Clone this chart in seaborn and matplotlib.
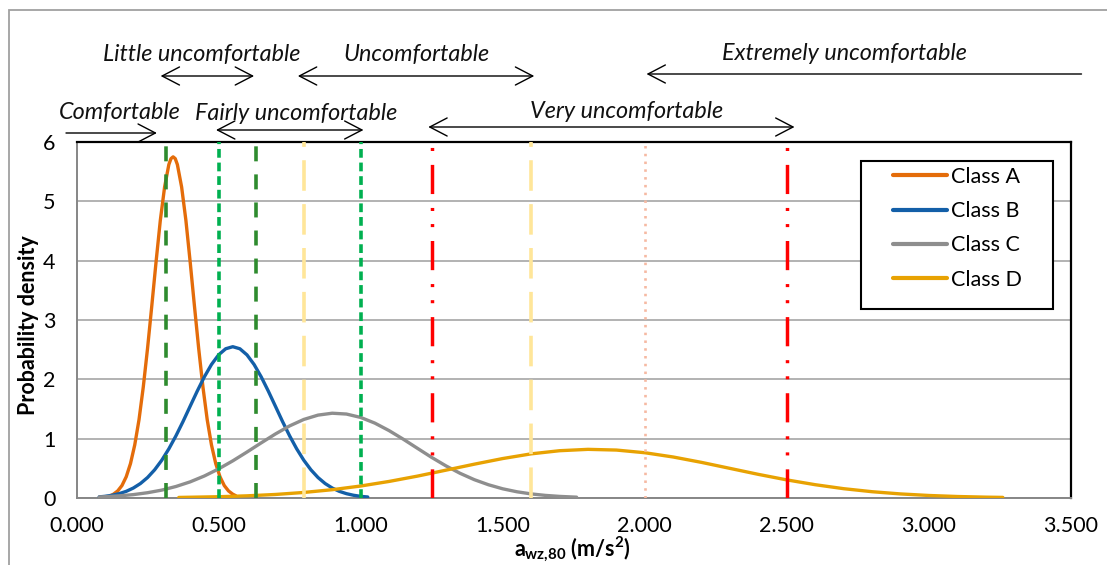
import numpy as np
import pandas as pd
import matplotlib
matplotlib.use("Agg")
import matplotlib.pyplot as plt
import matplotlib.transforms as mtransforms
from matplotlib.patches import FancyArrowPatch, Rectangle
from matplotlib.lines import Line2D
import seaborn as sns

# ---------------- data ----------------
class_a_x = [0.12, 0.13, 0.145, 0.16, 0.175, 0.19, 0.205, 0.22, 0.235, 0.25, 0.265, 0.28, 0.295,
             0.31, 0.325, 0.3325, 0.34, 0.3475, 0.355, 0.37, 0.385, 0.40, 0.415, 0.43, 0.445,
             0.46, 0.475, 0.49, 0.505, 0.52, 0.535, 0.55, 0.56]
class_a_y = [0.04, 0.064, 0.119, 0.21, 0.358, 0.58, 0.895, 1.32, 1.87, 2.52, 3.24, 3.98, 4.68,
             5.24, 5.62, 5.72, 5.75, 5.72, 5.62, 5.24, 4.68, 3.98, 3.24, 2.52, 1.87,
             1.32, 0.895, 0.58, 0.358, 0.21, 0.119, 0.064, 0.04]

class_b_x = [0.08, 0.10, 0.125, 0.15, 0.175, 0.20, 0.225, 0.25, 0.275, 0.30, 0.325, 0.35, 0.375,
             0.40, 0.425, 0.45, 0.475, 0.50, 0.525, 0.55, 0.575, 0.60, 0.625, 0.65, 0.675, 0.70,
             0.725, 0.75, 0.775, 0.80, 0.825, 0.85, 0.875, 0.90, 0.925, 0.95, 0.975, 1.00, 1.025]
class_b_y = [0.019, 0.028, 0.046, 0.073, 0.112, 0.168, 0.244, 0.345, 0.475, 0.636, 0.828, 1.048,
             1.290, 1.547, 1.802, 2.042, 2.250, 2.412, 2.515, 2.55, 2.515, 2.412, 2.250, 2.042,
             1.802, 1.547, 1.290, 1.048, 0.828, 0.636, 0.475, 0.345, 0.244, 0.168, 0.112, 0.073,
             0.046, 0.028, 0.017]

class_c_x = [0.08, 0.10, 0.15, 0.20, 0.25, 0.30, 0.35, 0.40, 0.45, 0.50, 0.55, 0.60, 0.65, 0.70,
             0.75, 0.80, 0.85, 0.90, 0.95, 1.00, 1.05, 1.10, 1.15, 1.20, 1.25, 1.30, 1.35, 1.40,
             1.45, 1.50, 1.55, 1.60, 1.65, 1.70, 1.76]
class_c_y = [0.018, 0.022, 0.036, 0.057, 0.089, 0.133, 0.194, 0.272, 0.371, 0.490, 0.626, 0.775,
             0.929, 1.079, 1.215, 1.324, 1.397, 1.429, 1.415, 1.358, 1.262, 1.136, 0.991, 0.837,
             0.684, 0.542, 0.416, 0.309, 0.223, 0.155, 0.105, 0.069, 0.044, 0.027, 0.014]

class_d_x = [0.36, 0.5, 0.6, 0.7, 0.8, 0.9, 1.0, 1.1, 1.2, 1.3, 1.4, 1.5, 1.6, 1.7, 1.8, 1.9,
             2.0, 2.1, 2.2, 2.3, 2.4, 2.5, 2.6, 2.7, 2.8, 2.9, 3.0, 3.1, 3.2, 3.26]
class_d_y = [0.0095, 0.0214, 0.0365, 0.0596, 0.0935, 0.140, 0.202, 0.279, 0.369, 0.469, 0.570,
             0.665, 0.744, 0.797, 0.820, 0.808, 0.763, 0.691, 0.600, 0.499, 0.398, 0.305, 0.224,
             0.157, 0.106, 0.0686, 0.0425, 0.0252, 0.0144, 0.0101]

class_names = ["Class A", "Class B", "Class C", "Class D"]
class_colors = ["#E46C0A", "#135FA8", "#8E8E8E", "#E8A202"]

# comfort thresholds (m/s^2)
comfortable_upper = 0.315
little_bounds = [0.315, 0.63]
fairly_bounds = [0.5, 1.0]
uncomfortable_bounds = [0.8, 1.6]
very_bounds = [1.25, 2.5]
extremely_lower = 2.0

x_ticks = [0.0, 0.5, 1.0, 1.5, 2.0, 2.5, 3.0, 3.5]
y_ticks = [0, 1, 2, 3, 4, 5, 6]

# ---------------- style ----------------
sns.set_theme(style="white")
plt.rcParams["font.family"] = ["Lato", "DejaVu Sans"]
plt.rcParams["lines.scale_dashes"] = False
plt.rcParams["mathtext.fontset"] = "custom"
plt.rcParams["mathtext.rm"] = "Lato:bold"
plt.rcParams["mathtext.it"] = "Lato:bold"
plt.rcParams["mathtext.bf"] = "Lato:bold"

W, H = 1107, 565
fig = plt.figure(figsize=(W / 100, H / 100), dpi=100, facecolor="white")
ax = fig.add_axes([76.5 / W, 1 - 498 / H, (1071 - 76.5) / W, (498 - 142) / H])

def fy(px):
    return 1 - px / H

frames = []
for name, xs, ys in zip(class_names, [class_a_x, class_b_x, class_c_x, class_d_x],
                        [class_a_y, class_b_y, class_c_y, class_d_y]):
    frames.append(pd.DataFrame({"x": xs, "y": ys, "cls": name}))
df = pd.concat(frames, ignore_index=True)
palette = dict(zip(class_names, class_colors))

sns.lineplot(data=df, x="x", y="y", hue="cls", hue_order=class_names, palette=palette,
             sort=False, estimator=None, linewidth=2.4, legend=False, ax=ax, zorder=3)

# vertical threshold lines
vstyles = [
    (little_bounds, "#2E8B2E", (0, (10.8, 9.4)), 2.6),
    (fairly_bounds, "#00B050", (0, (6.3, 3.5)), 2.6),
    (uncomfortable_bounds, "#FFE699", (0, (22, 9.6)), 2.6),
    (very_bounds, "#FF0000", (0, (21, 10, 2.2, 9.4, 2.2, 10)), 2.5),
    ([extremely_lower], "#F6B9A2", (0, (1.8, 3.8)), 1.9),
]
for xs, col, ls, lw in vstyles:
    for xv in xs:
        ax.axvline(xv, ymin=0, ymax=1, color=col, linestyle=ls, linewidth=lw, zorder=4)

ax.set_xlim(0, 3.5)
ax.set_ylim(0, 6)
ax.set_xticks(x_ticks)
ax.set_xticklabels([f"{v:.3f}" for v in x_ticks])
ax.set_yticks(y_ticks)
ax.set_yticklabels([str(v) for v in y_ticks])
ax.tick_params(axis="both", which="major", labelsize=15.5, colors="#868686",
               labelcolor="black", length=6, width=1.2, direction="out")
ax.tick_params(axis="y", pad=9)
ax.tick_params(axis="x", pad=7)
ax.grid(axis="y", color="#A5A5A5", linewidth=1.2)
ax.grid(axis="x", visible=False)
ax.set_axisbelow(True)
ax.set_xlabel("")
ax.set_ylabel("")

for side in ["left", "bottom"]:
    ax.spines[side].set_color("#868686")
    ax.spines[side].set_linewidth(1.4)
for side in ["top", "right"]:
    ax.spines[side].set_color("black")
    ax.spines[side].set_linewidth(1.6)
    ax.spines[side].set_visible(True)

# axis titles
fig.text(29 / W, fy(325), "Probability density", rotation=90, ha="center", va="center",
         fontsize=15.5, fontweight="bold", color="black")
fig.text(572 / W, fy(549), r"$a_{wz{,}80}$ (m/s$^{2}$)", ha="center", va="center",
         fontsize=15.5, fontweight="bold", color="black")

# legend with custom box
box = Rectangle((861 / W, 1 - 309 / H), (1053 - 861) / W, (309 - 161) / H, transform=fig.transFigure,
                facecolor="white", edgecolor="black", linewidth=1.5, zorder=4.5, clip_on=False)
ax.add_patch(box)
handles = [Line2D([], [], color=c, linewidth=3) for c in class_colors]
leg = ax.legend(handles, class_names, loc="upper left", bbox_to_anchor=(893 / W, 1 - 167 / H),
                bbox_transform=fig.transFigure, frameon=False, fontsize=15.5, handlelength=2.5,
                handletextpad=0.2, labelspacing=0.66, borderpad=0, borderaxespad=0)
leg.set_zorder(5)
for t in leg.get_texts():
    t.set_color("black")

# comfort annotations (x in data units, y in figure pixels)
bt = mtransforms.blended_transform_factory(ax.transData, fig.transFigure)

texts = [
    ("Little uncomfortable", 0.441, 55),
    ("Uncomfortable", 1.198, 55),
    ("Extremely uncomfortable", 2.703, 53),
    ("Comfortable", 0.153, 113),
    ("Fairly uncomfortable", 0.772, 113),
    ("Very uncomfortable", 1.936, 112),
]
for s, xv, ypx in texts:
    ax.text(xv, fy(ypx), s, transform=bt, ha="center", va="center", fontsize=16.8,
            fontstyle="italic", color="#111111", clip_on=False)

arrows = [
    (-0.037, 0.283, 133, "->"),
    (little_bounds[0] - 0.019, little_bounds[1] - 0.005, 76, "<->"),
    (uncomfortable_bounds[0] - 0.021, uncomfortable_bounds[1] + 0.011, 76, "<->"),
    (3.537, extremely_lower + 0.006, 74, "->"),
    (fairly_bounds[0] - 0.009, fairly_bounds[1] + 0.010, 130, "<->"),
    (very_bounds[0] - 0.012, very_bounds[1] + 0.027, 127, "<->"),
]
for x0, x1, ypx, st in arrows:
    a = FancyArrowPatch((x0, fy(ypx)), (x1, fy(ypx)), transform=bt,
                        arrowstyle=st + ",head_length=1.25,head_width=0.65", mutation_scale=10,
                        color="black", linewidth=1.0, clip_on=False, shrinkA=0, shrinkB=0)
    ax.add_artist(a)

# outer chart border
border = Rectangle((9 / W, -0.2), 1.2, 1.2 - 10 / H, transform=fig.transFigure, fill=False,
                   edgecolor="#A0A0A0", linewidth=1.3, clip_on=False)
fig.add_artist(border)

fig.savefig("out.png", dpi=100, facecolor="white")
